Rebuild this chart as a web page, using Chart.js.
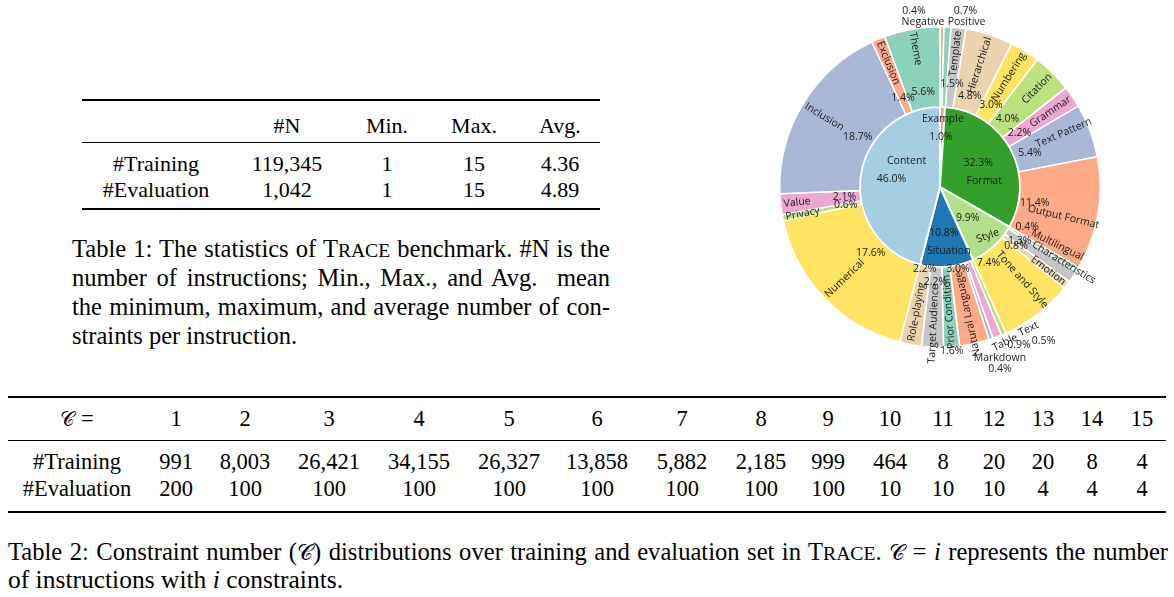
<!DOCTYPE html>
<html>
<head>
<meta charset="utf-8">
<script src="https://cdn.jsdelivr.net/npm/chart.js@4.4.1/dist/chart.umd.min.js"></script>
<style>
html,body{margin:0;padding:0;background:#fff;}
body{width:1174px;height:597px;overflow:hidden;position:relative;font-family:"Liberation Serif","Times New Roman",serif;color:#000;}
.rule{position:absolute;background:#000;}
.cell{position:absolute;transform:translateX(-50%);white-space:nowrap;}
.line{position:absolute;white-space:nowrap;text-align:justify;text-align-last:justify;}
.last{text-align:left;text-align-last:left;}
.sc{font-size:0.8em;}
.cal{font-family:"DejaVu Serif","DejaVu Sans",serif;font-size:0.88em;}
#chartBox{position:absolute;left:760px;top:0;width:414px;height:390px;}
</style>
</head>
<body>
<div id="page"></div>
<div id="chartBox"><canvas id="sun" width="414" height="390"></canvas></div>
<script>
// ---------------- data ----------------
const innerLabels = ['Example', 'Format', 'Style', 'Situation', 'Content'];
const innerValues = [1.0, 32.3, 9.9, 10.8, 46.0];

const outerLabels = ['Negative', 'Positive', 'Template', 'Hierarchical', 'Numbering', 'Citation', 'Grammar',
  'Text Pattern', 'Output Format', 'Multilingual', 'Characteristics', 'Emotion', 'Tone and Style',
  'Text', 'Table', 'Markdown', 'Natural Language', 'Prior Condition', 'Target Audience', 'Role-playing',
  'Numerical', 'Privacy', 'Value', 'Inclusion', 'Exclusion', 'Theme'];
const outerValues = [0.4, 0.7, 1.5, 4.8, 3.0, 4.0, 2.2,
  5.4, 11.4, 0.4, 1.3, 0.8, 7.4,
  0.5, 0.9, 0.4, 3.0, 1.6, 2.2, 2.2,
  17.6, 0.6, 2.1, 18.7, 1.4, 5.6];

const t1Columns = ['#N', 'Min.', 'Max.', 'Avg.'];
const t1RowLabels = ['#Training', '#Evaluation'];
const t1N = ['119,345', '1,042'];
const t1Min = ['1', '1'];
const t1Max = ['15', '15'];
const t1Avg = ['4.36', '4.89'];

const t2C = ['1','2','3','4','5','6','7','8','9','10','11','12','13','14','15'];
const t2RowLabels = ['#Training', '#Evaluation'];
const t2Training = ['991','8,003','26,421','34,155','26,327','13,858','5,882','2,185','999','464','8','20','20','8','4'];
const t2Evaluation = ['200','100','100','100','100','100','100','100','100','10','10','10','4','4','4'];

// ---------------- tables (HTML text) ----------------
const page = document.getElementById('page');
function rule(x, y, w, h) {
  const d = document.createElement('div');
  d.className = 'rule';
  d.style.cssText = `left:${x}px;top:${y}px;width:${w}px;height:${h}px;`;
  page.appendChild(d);
}
function cell(html, cx, cy, fs) {
  const d = document.createElement('div');
  d.className = 'cell';
  const lh = 26;
  d.style.cssText = `left:${cx}px;top:${cy - lh / 2}px;font-size:${fs}px;line-height:${lh}px;`;
  d.innerHTML = html;
  page.appendChild(d);
}
function line(html, x, cy, w, fs, last) {
  const d = document.createElement('div');
  d.className = 'line' + (last ? ' last' : '');
  const lh = 28;
  d.style.cssText = `left:${x}px;top:${cy - lh / 2}px;${w ? 'width:' + w + 'px;' : ''}font-size:${fs}px;line-height:${lh}px;`;
  d.innerHTML = html;
  page.appendChild(d);
}

// Table 1
const T1FS = 22;
const t1X = [156, 287, 387, 474, 560];
rule(82, 99, 518, 2);
rule(82, 142, 518, 1.2);
rule(82, 208, 518, 2);
t1Columns.forEach((c, j) => cell(c, t1X[j + 1], 126, T1FS));
const t1Cols = [t1N, t1Min, t1Max, t1Avg];
t1RowLabels.forEach((r, i) => {
  const cy = [164, 190][i];
  cell(r, t1X[0], cy, T1FS);
  t1Cols.forEach((col, j) => cell(col[i], t1X[j + 1], cy, T1FS));
});
const CFS = 24.5;
const trace = 'T<span class="sc">RACE</span>';
line(`Table 1: The statistics of ${trace} benchmark. #N is the`, 72, 249, 538, CFS);
line('number of instructions; Min., Max., and Avg.&nbsp; mean', 72, 278, 538, CFS);
line('the minimum, maximum, and average number of con-', 72, 307, 538, CFS);
line('straints per instruction.', 72, 336, 0, CFS, true);

// Table 2
const T2FS = 22.5;
const t2LabelX = 77;
const t2X = [176, 245, 329, 419, 509, 597, 682, 761, 828, 890, 943, 994, 1043, 1092, 1142];
rule(8, 395.5, 1158, 2);
rule(8, 440, 1158, 1.3);
rule(8, 510.5, 1158, 2);
cell('<span class="cal">&#x1D49E;</span> =', t2LabelX, 419, T2FS);
t2C.forEach((c, j) => cell(c, t2X[j], 419, T2FS));
[t2Training, t2Evaluation].forEach((row, i) => {
  const cy = [462, 489][i];
  cell(t2RowLabels[i], t2LabelX, cy, T2FS);
  row.forEach((v, j) => cell(v, t2X[j], cy, T2FS));
});
line(`Table 2: Constraint number (<span class="cal">&#x1D49E;</span>) distributions over training and evaluation set in ${trace}. <span class="cal">&#x1D49E;</span> = <i>i</i> represents the number`, 8, 552, 1160, 24.6);
line('of instructions with <i>i</i> constraints.', 8, 580, 0, 25.5, true);

// ---------------- sunburst (Chart.js doughnut, two rings) ----------------
const innerColors = ['#fb9a99', '#33a02c', '#b2df8a', '#1f78b4', '#a6cee3'];
const set2Light = ['#8cd1bc', '#fdaa89', '#aab8d8', '#eda7d2', '#bce27f', '#ffe363', '#ecd3af', '#c6c6c6'];
const outerColors = outerLabels.map((_, i) => set2Light[((outerLabels.length - 1 - i) % 8 + 8) % 8]);

const sunLabels = {
  id: 'sunLabels',
  afterDatasetsDraw(chart, args, opts) {
    const ctx = chart.ctx;
    ctx.save();
    ctx.fillStyle = opts.color;
    ctx.font = opts.font;
    ctx.textAlign = 'center';
    ctx.textBaseline = 'middle';
    const deg = Math.PI / 180;
    const put = (txt, x, y, rot) => {
      ctx.save();
      ctx.translate(x, y);
      if (rot) ctx.rotate(rot);
      ctx.fillText(txt, 0, 0);
      ctx.restore();
    };
    // outer ring
    chart.getDatasetMeta(0).data.forEach((arc, i) => {
      const p = arc.getProps(['x', 'y', 'startAngle', 'endAngle', 'innerRadius', 'outerRadius'], true);
      const name = outerLabels[i];
      const pct = outerValues[i].toFixed(1) + '%';
      const a = (p.startAngle + p.endAngle) / 2;
      const theta = ((a / deg + 90) % 360 + 360) % 360;
      const out = opts.outside[name];
      if (out) {
        const bx = p.x + p.outerRadius * Math.cos(a), by = p.y + p.outerRadius * Math.sin(a);
        put(name, bx + out.name[0], by + out.name[1], (out.name[2] || 0) * deg);
        put(pct, bx + out.pct[0], by + out.pct[1], 0);
        return;
      }
      const pa = a + (opts.pctA[name] || 0) * deg;
      const pr = opts.pctR[name] || (p.innerRadius + 16);
      put(pct, p.x + pr * Math.cos(pa), p.y + pr * Math.sin(pa), 0);
      const w = ctx.measureText(name).width;
      const na = a + (opts.nameA[name] || 0) * deg;
      const nr = opts.nameR[name] || (Math.max(p.outerRadius - 3 - w, p.innerRadius + 15) + w / 2);
      const flip = theta > 155 && theta < 360;
      put(name, p.x + nr * Math.cos(na), p.y + nr * Math.sin(na), flip ? na + Math.PI : na);
    });
    // inner ring
    chart.getDatasetMeta(1).data.forEach((arc, i) => {
      const p = arc.getProps(['x', 'y', 'startAngle', 'endAngle'], true);
      const name = innerLabels[i];
      const pct = innerValues[i].toFixed(1) + '%';
      const s = opts.inner[name];
      const a = (p.startAngle + p.endAngle) / 2 + (s.dA || 0) * deg;
      const cx = p.x + s.r * Math.cos(a), cy = p.y + s.r * Math.sin(a);
      const g = opts.innerGap / 2;
      const pctY = s.pctFirst ? cy - g : cy + g;
      const nameY = s.pctFirst ? cy + g : cy - g;
      put(pct, cx + (s.pctDx || 0), pctY, 0);
      put(name, cx + (s.nameDx || 0), nameY, (s.nameRot || 0) * deg);
    });
    ctx.restore();
  }
};

new Chart(document.getElementById('sun'), {
  type: 'doughnut',
  data: {
    labels: outerLabels,
    datasets: [
      { label: 'Sub-category', data: outerValues, backgroundColor: outerColors, borderColor: '#ffffff', borderWidth: 1.5 },
      { label: 'Category', data: innerValues, backgroundColor: innerColors, borderColor: '#ffffff', borderWidth: 2 }
    ]
  },
  options: {
    responsive: false,
    animation: false,
    events: [],
    devicePixelRatio: 1,
    cutout: 0,
    rotation: 0,
    layout: { padding: { left: 19, right: 73, top: 26, bottom: 42 } },
    plugins: {
      legend: { display: false },
      tooltip: { enabled: false },
      sunLabels: {
        color: '#1a1a1a',
        font: '10.5px "Open Sans", "DejaVu Sans", sans-serif',
        innerGap: 18,
        pctR: { 'Template': 104, 'Tone and Style': 90, 'Natural Language': 84, 'Role-playing': 83,
                'Prior Condition': 164, 'Target Audience': 95 },
        pctA: { 'Multilingual': -6, 'Tone and Style': 5 },
        nameR: { 'Characteristics': 145, 'Natural Language': 130, 'Prior Condition': 125,
                 'Tone and Style': 124, 'Target Audience': 137, 'Role-playing': 127,
                 'Text Pattern': 135, 'Output Format': 127, 'Multilingual': 131 },
        nameA: { 'Multilingual': -4.5, 'Characteristics': -2.5, 'Output Format': 4,
                 'Tone and Style': -4, 'Text Pattern': -3 },
        outside: {
          'Negative': { name: [-19, -5], pct: [-28, -16] },
          'Positive': { name: [19, -5], pct: [18, -16] },
          'Table': { name: [8, 6, -26], pct: [22, 8] },
          'Text': { name: [25, -5, -26], pct: [40, 7] },
          'Markdown': { name: [9, 19], pct: [9, 30] }
        },
        inner: {
          'Example': { r: 59, dA: 0, pctFirst: false, nameDx: 1, pctDx: -1 },
          'Format': { r: 44, dA: 8, pctFirst: true, pctDx: -3, nameDx: 3 },
          'Style': { r: 55, dA: -1, pctFirst: true, pctDx: -10, nameDx: 10, nameRot: -20 },
          'Situation': { r: 55, dA: -1, pctFirst: true, pctDx: -2, nameDx: 3 },
          'Content': { r: 44, dA: 16, pctFirst: false, pctDx: -8, nameDx: 7 }
        }
      }
    }
  },
  plugins: [sunLabels]
});
</script>
</body>
</html>
